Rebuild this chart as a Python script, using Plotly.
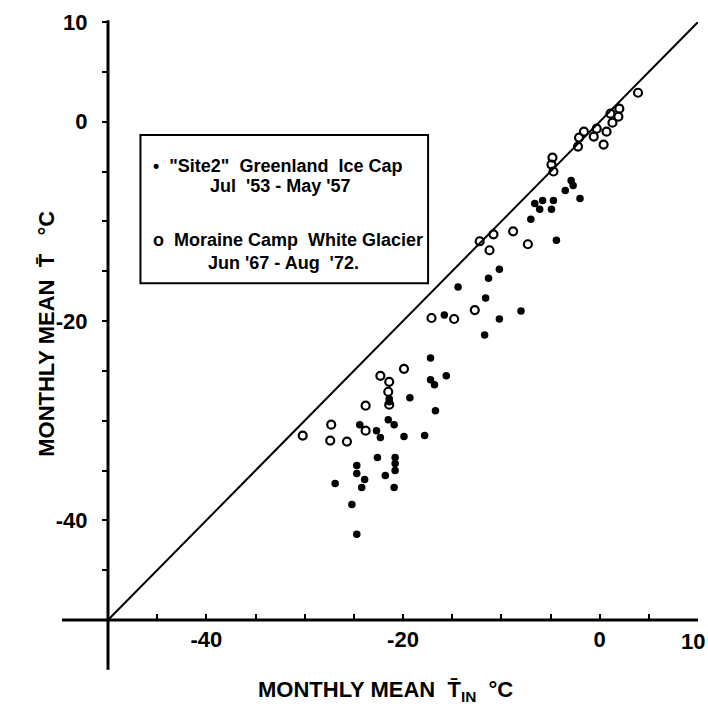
import plotly.graph_objects as go

# ---- data ----
site2_x = [-2.9, -2.7, -3.5, -5.8, -6.6, -4.7, -6.1, -4.9, -2.0, -7.0, -4.4,
           -10.2, -11.3, -14.4, -11.6, -8.0, -15.8, -10.2, -11.7,
           -17.2, -15.6, -17.2, -16.8, -19.3, -21.4, -21.4, -16.7,
           -21.5, -20.9, -24.4, -22.7, -22.3, -19.9, -17.8,
           -22.6, -20.8, -20.8, -20.8, -24.7, -24.7, -23.9, -21.8,
           -26.9, -24.2, -20.9, -25.2, -24.7]
site2_y = [-5.9, -6.4, -6.9, -7.9, -8.2, -7.9, -8.8, -8.8, -7.7, -9.8, -11.9,
           -14.8, -15.7, -16.6, -17.7, -19.0, -19.4, -19.8, -21.4,
           -23.7, -25.5, -25.9, -26.4, -27.7, -27.8, -28.1, -29.0,
           -29.9, -30.4, -30.4, -31.0, -31.7, -31.6, -31.5,
           -33.7, -33.7, -34.3, -35.0, -34.5, -35.3, -35.9, -35.5,
           -36.3, -36.7, -36.7, -38.4, -41.4]

moraine_x = [3.9, 2.0, 1.1, 1.9, 1.3, -0.3, -1.6, 0.7, -2.1, -0.6, -2.2, 0.4,
             -4.8, -4.9, -4.7, -10.8, -8.8, -7.3, -11.2, -12.2,
             -17.1, -14.8, -12.7, -19.9, -22.3, -21.4, -21.5, -21.4,
             -23.8, -27.3, -23.8, -30.2, -27.4, -25.7]
moraine_y = [2.9, 1.3, 0.8, 0.5, -0.1, -0.7, -1.0, -1.0, -1.6, -1.5, -2.5, -2.3,
             -3.6, -4.3, -5.0, -11.3, -11.0, -12.3, -12.9, -12.0,
             -19.7, -19.8, -18.9, -24.8, -25.5, -26.1, -27.1, -28.4,
             -28.5, -30.4, -31.0, -31.5, -32.0, -32.1]

line_x = [-50, 10]
line_y = [-50, 10]

x_tick_vals = [-45, -40, -35, -30, -25, -20, -15, -10, -5, 0, 5, 10]
x_tick_text = ["", "-40", "", "", "", "-20", "", "", "", "0", "", ""]
x_end_label = "10"
y_tick_vals = [-45, -40, -35, -30, -25, -20, -15, -10, -5, 0, 5, 10]
y_tick_text = ["", "-40", "", "", "", "-20", "", "", "", "0", "", "10"]

FONT = "Liberation Sans, Arial, sans-serif"

fig = go.Figure()

fig.add_trace(go.Scatter(x=line_x, y=line_y, mode="lines",
                         line=dict(color="black", width=2), showlegend=False,
                         hoverinfo="skip"))
fig.add_trace(go.Scatter(x=site2_x, y=site2_y, mode="markers",
                         marker=dict(symbol="circle", size=7.5, color="black"),
                         showlegend=False))
fig.add_trace(go.Scatter(x=moraine_x, y=moraine_y, mode="markers",
                         marker=dict(symbol="circle-open", size=8, color="black",
                                     line=dict(width=2.2, color="black")),
                         showlegend=False))

# axis lines (extended past the origin as in the original)
fig.add_shape(type="line", xref="paper", yref="paper", x0=0, x1=0, y0=-0.083, y1=1.003,
              line=dict(color="black", width=3))
fig.add_shape(type="line", xref="paper", yref="paper", x0=-0.078, x1=1.0, y0=0, y1=0,
              line=dict(color="black", width=3))

# legend box
fig.add_shape(type="rect", xref="x", yref="y", x0=-46.7, x1=-17.45, y0=-16.2, y1=-1.35,
              line=dict(color="black", width=2), fillcolor="rgba(0,0,0,0)")

tf = dict(family=FONT, size=18, color="black", weight="bold")
fig.add_annotation(x=-45.6, y=-4.4, xref="x", yref="y", xanchor="left", yanchor="middle",
                   text='•  "Site2"  Greenland  Ice Cap', showarrow=False, font=tf)
fig.add_annotation(x=-32.5, y=-6.5, xref="x", yref="y", xanchor="center", yanchor="middle",
                   text="Jul  '53 - May '57", showarrow=False, font=tf)
fig.add_annotation(x=-45.6, y=-11.9, xref="x", yref="y", xanchor="left", yanchor="middle",
                   text="o  Moraine Camp  White Glacier", showarrow=False, font=tf)
fig.add_annotation(x=-32.2, y=-14.2, xref="x", yref="y", xanchor="center", yanchor="middle",
                   text="Jun '67 - Aug  '72.", showarrow=False, font=tf)

# axis titles
ttl = dict(family=FONT, size=22, color="black", weight="bold")
fig.add_annotation(x=-0.104, y=0.478, xref="paper", yref="paper", xanchor="center",
                   yanchor="middle", textangle=-90,
                   text="MONTHLY MEAN  T\u0304   °C", showarrow=False, font=ttl)
fig.add_annotation(x=0.47, y=-0.118, xref="paper", yref="paper", xanchor="center",
                   yanchor="middle",
                   text="MONTHLY MEAN  T\u0304<sub>IN</sub>  °C", showarrow=False, font=ttl)

tick_font = dict(family=FONT, size=22, color="black", weight="bold")
fig.add_annotation(x=10, y=-0.036, xref="x", yref="paper", xanchor="right",
                   xshift=9, yanchor="middle", text=x_end_label, showarrow=False,
                   font=tick_font)

fig.update_xaxes(range=[-50, 10], showgrid=False, zeroline=False, showline=False,
                 tickmode="array", tickvals=x_tick_vals, ticktext=x_tick_text,
                 ticks="inside", ticklen=6, tickwidth=2, tickcolor="black",
                 tickfont=tick_font, ticklabelstandoff=4)
fig.update_yaxes(range=[-50, 10], showgrid=False, zeroline=False, showline=False,
                 tickmode="array", tickvals=y_tick_vals, ticktext=y_tick_text,
                 ticks="outside", ticklen=5, tickwidth=2, tickcolor="black",
                 tickfont=tick_font, ticklabelstandoff=10)

fig.update_layout(width=708, height=707,
                  margin=dict(l=108, r=10, t=18, b=87),
                  plot_bgcolor="white", paper_bgcolor="white",
                  showlegend=False)

fig.write_html("out.html")
